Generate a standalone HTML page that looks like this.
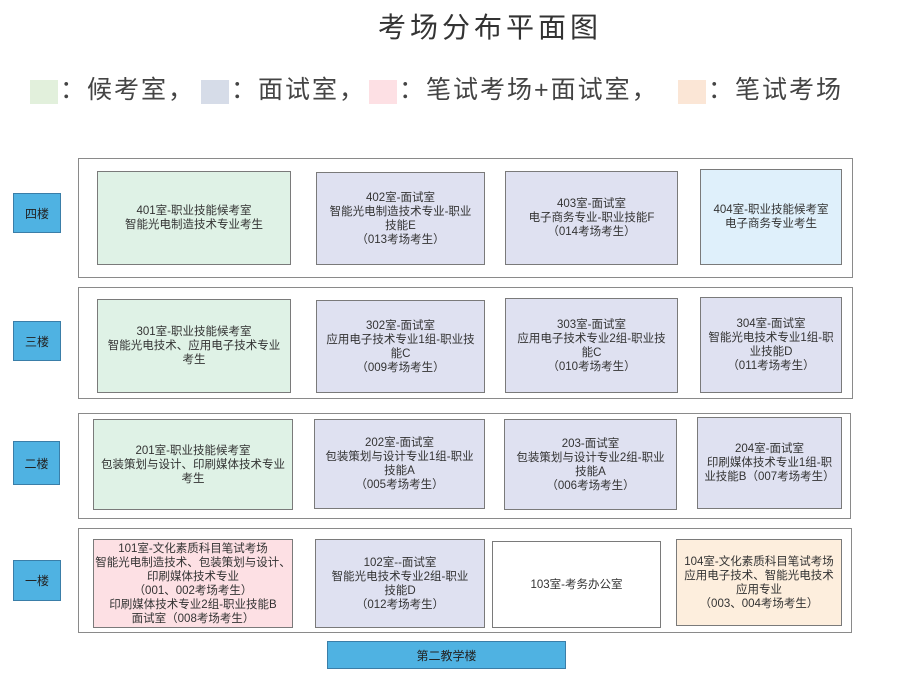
<!DOCTYPE html>
<html><head><meta charset="utf-8"><style>
body{margin:0;width:900px;height:684px;background:#fff;position:relative;overflow:hidden;font-family:"Liberation Sans","Noto Sans CJK SC",sans-serif;color:#333}
.a{position:absolute;box-sizing:border-box}
.fl{border:1px solid #8a8a8a;background:#fff}
.r{border:1px solid #7a7a7a;display:flex;align-items:center;justify-content:center;text-align:center;font-size:11.5px;line-height:14px;color:#333}
.g{background:#dff2e6}.v{background:#dfe1f1}.p{background:#fde0e4}.o{background:#fdeedd}.b{background:#dff0fb}.w{background:#fff}
.lab{background:#4fb2e2;border:1px solid #3a7ea8;display:flex;align-items:center;justify-content:center;font-size:12px;color:#222}
.lg{position:absolute;font-size:25px;top:74px;line-height:32px;color:#444;white-space:nowrap;letter-spacing:2px}
.sw{position:absolute;top:80px;width:28px;height:24px}
</style></head><body>
<div class="a" style="left:378px;top:10px;font-size:28px;line-height:36px;color:#333;letter-spacing:4px;white-space:nowrap">考场分布平面图</div>
<div class="sw" style="left:30px;background:#e2f0dc"></div>
<div class="lg" style="left:60px">：候考室，</div>
<div class="sw" style="left:201px;background:#d6dce8"></div>
<div class="lg" style="left:231px">：面试室，</div>
<div class="sw" style="left:369px;background:#fde0e4"></div>
<div class="lg" style="left:399px">：笔试考场+面试室，</div>
<div class="sw" style="left:678px;background:#fbe6d6"></div>
<div class="lg" style="left:708px">：笔试考场</div>

<div class="a fl" style="left:78px;top:158px;width:775px;height:120px"></div>
<div class="a fl" style="left:78px;top:287px;width:775px;height:112px"></div>
<div class="a fl" style="left:78px;top:413px;width:773px;height:106px"></div>
<div class="a fl" style="left:78px;top:528px;width:774px;height:105px"></div>

<div class="a lab" style="left:13px;top:193px;width:48px;height:40px">四楼</div>
<div class="a lab" style="left:13px;top:321px;width:48px;height:40px">三楼</div>
<div class="a lab" style="left:13px;top:441px;width:47px;height:44px">二楼</div>
<div class="a lab" style="left:13px;top:560px;width:48px;height:41px">一楼</div>

<div class="a r g" style="left:97px;top:171px;width:194px;height:94px">401室-职业技能候考室<br>智能光电制造技术专业考生</div>
<div class="a r v" style="left:316px;top:172px;width:169px;height:93px">402室-面试室<br>智能光电制造技术专业-职业<br>技能E<br>（013考场考生）</div>
<div class="a r v" style="left:505px;top:171px;width:173px;height:94px">403室-面试室<br>电子商务专业-职业技能F<br>（014考场考生）</div>
<div class="a r b" style="left:700px;top:169px;width:142px;height:96px">404室-职业技能候考室<br>电子商务专业考生</div>

<div class="a r g" style="left:97px;top:299px;width:194px;height:94px">301室-职业技能候考室<br>智能光电技术、应用电子技术专业<br>考生</div>
<div class="a r v" style="left:316px;top:300px;width:169px;height:93px">302室-面试室<br>应用电子技术专业1组-职业技<br>能C<br>（009考场考生）</div>
<div class="a r v" style="left:505px;top:298px;width:173px;height:95px">303室-面试室<br>应用电子技术专业2组-职业技<br>能C<br>（010考场考生）</div>
<div class="a r v" style="left:700px;top:297px;width:142px;height:96px">304室-面试室<br>智能光电技术专业1组-职<br>业技能D<br>（011考场考生）</div>

<div class="a r g" style="left:93px;top:419px;width:200px;height:91px">201室-职业技能候考室<br>包装策划与设计、印刷媒体技术专业<br>考生</div>
<div class="a r v" style="left:314px;top:419px;width:171px;height:90px">202室-面试室<br>包装策划与设计专业1组-职业<br>技能A<br>（005考场考生）</div>
<div class="a r v" style="left:504px;top:419px;width:173px;height:91px">203-面试室<br>包装策划与设计专业2组-职业<br>技能A<br>（006考场考生）</div>
<div class="a r v" style="left:697px;top:417px;width:145px;height:92px">204室-面试室<br>印刷媒体技术专业1组-职<br>业技能B（007考场考生）</div>

<div class="a r p" style="left:93px;top:539px;width:200px;height:89px">101室-文化素质科目笔试考场<br>智能光电制造技术、包装策划与设计、<br>印刷媒体技术专业<br>（001、002考场考生）<br>印刷媒体技术专业2组-职业技能B<br>面试室（008考场考生）</div>
<div class="a r v" style="left:315px;top:539px;width:170px;height:89px">102室--面试室<br>智能光电技术专业2组-职业<br>技能D<br>（012考场考生）</div>
<div class="a r w" style="left:492px;top:541px;width:169px;height:87px">103室-考务办公室</div>
<div class="a r o" style="left:676px;top:539px;width:166px;height:87px">104室-文化素质科目笔试考场<br>应用电子技术、智能光电技术<br>应用专业<br>（003、004考场考生）</div>

<div class="a lab" style="left:327px;top:641px;width:239px;height:28px">第二教学楼</div>
</body></html>
